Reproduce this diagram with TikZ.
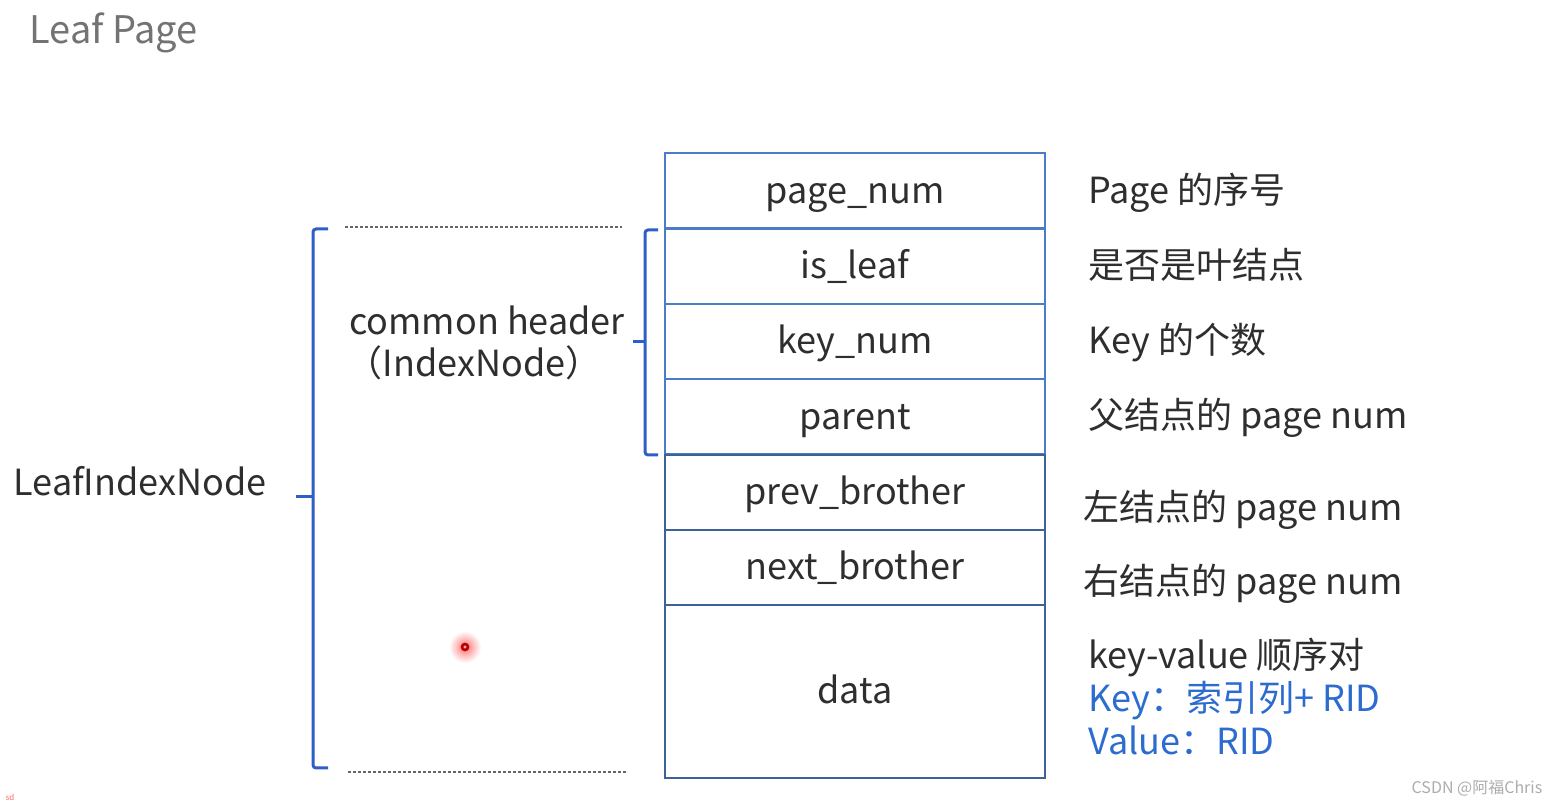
\documentclass[tikz,border=0pt]{standalone}
\usepackage{fontspec}
\setmainfont{Noto Sans CJK SC}
\usepackage{tikz}
\definecolor{rowblue}{RGB}{74,124,201}
\definecolor{rowdark}{RGB}{60,98,150}
\definecolor{bracecol}{RGB}{46,94,200}
\definecolor{noteblue}{RGB}{44,108,206}

\begin{document}
\begin{tikzpicture}[x=0.5pt,y=-0.5pt]
\tikzstyle{big}=[font=\fontsize{18}{21}\selectfont,text=black!82,text height=1ex,text depth=0pt,inner sep=0pt,yshift=-3.5pt]
\tikzstyle{row}=[font=\fontsize{18}{21}\selectfont,text=black!82,inner sep=0pt,draw=rowblue,line width=1pt,minimum width=190pt,minimum height=37.5pt]
\tikzstyle{lowrow}=[row,draw=rowdark]
\tikzstyle{note}=[big,anchor=west]
\tikzstyle{brace}=[draw=bracecol,line width=1.5pt,rounded corners=1.5pt]
\tikzstyle{guide}=[draw=black!60,dash pattern=on 1.5pt off 1pt,line width=0.6pt]
\useasboundingbox (0,0) rectangle (1560,806);

\node[big,anchor=west,text=black!55,font=\fontsize{19}{21}\selectfont] (title) at (29,31) {Leaf Page};

% the page layout
\node[row] (pnum) at (855,191) {};
\node[row] (leaf) at (855,266.5) {};
\node[row] (knum) at (855,341.5) {};
\node[row] (par) at (855,417) {};
\node[lowrow] (prev) at (855,492.5) {};
\node[lowrow] (next) at (855,567.5) {};
\node[lowrow,minimum height=86.5pt] (data) at (855,691.5) {};
\node[big] (pnumlbl) at (pnum.center) {page\_num};
\node[big] (leaflbl) at (leaf.center) {is\_leaf};
\node[big] (knumlbl) at (knum.center) {key\_num};
\node[big] (parlbl) at (par.center) {parent};
\node[big] (prevlbl) at (prev.center) {prev\_brother};
\node[big] (nextlbl) at (next.center) {next\_brother};
\node[big] (datalbl) at (data.center) {data};

% what each field holds
\node[note] (pnumtxt) at (1088,191) {Page 的序号};
\node[note] (leaftxt) at (1088,266) {是否是叶结点};
\node[note] (knumtxt) at (1088,341) {Key 的个数};
\node[note] (partxt) at (1088,416) {父结点的 page num};
\node[note] (prevtxt) at (1083,508) {左结点的 page num};
\node[note] (nexttxt) at (1083,582) {右结点的 page num};
\node[note] (kvtxt) at (1088,656) {key-value 顺序对};
\node[note,text=noteblue] (keytxt) at (1088,699) {Key：索引列+ RID};
\node[note,text=noteblue] (valtxt) at (1088,742) {Value：RID};

% braces and guides
\draw[brace] (328,229) -- (313,229) -- (313,768) -- (328,768);
\draw[brace] (313,497) -- (296,497);
\draw[brace] (658,230) -- (645,230) -- (645,455) -- (658,455);
\draw[brace] (645,342) -- (633,342);
\draw[guide] (345,227) -- (622,227);
\draw[guide] (348,772) -- (627,772);

\node[big] (leafidx) at (140,483) {LeafIndexNode};
\node[big] (hdr) at (487,322) {common header};
\node[big] (idx) at (474,364) {（IndexNode）};

% cursor mark and stamps
\shade[inner color=red!55,outer color=white] (465,647) circle (8pt);
\fill[red!75!black] (465,647) circle (2.2pt);
\fill[red!30] (465,647) circle (0.8pt);
\node[text=red!60,font=\fontsize{4}{5}\selectfont] (sd) at (10,797) {sd};
\node[text=gray!65,font=\fontsize{8}{10}\selectfont] (mark) at (1477,788) {CSDN @阿福Chris};
\end{tikzpicture}
\end{document}
